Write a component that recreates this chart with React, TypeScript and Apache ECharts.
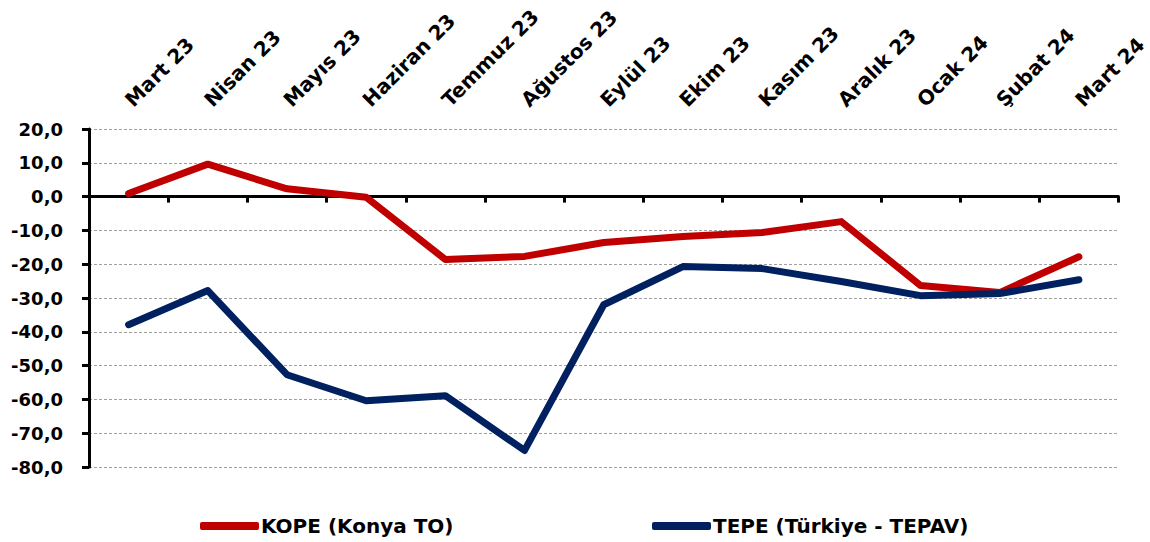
import React, { useEffect, useRef } from "react";
import * as echarts from "echarts";

const categories = [
  "Mart 23", "Nisan 23", "Mayıs 23", "Haziran 23", "Temmuz 23", "Ağustos 23",
  "Eylül 23", "Ekim 23", "Kasım 23", "Aralık 23", "Ocak 24", "Şubat 24", "Mart 24",
];
const kopeName = "KOPE (Konya TO)";
const tepeName = "TEPE (Türkiye - TEPAV)";
const kopeValues = [0.9, 9.6, 2.3, -0.2, -18.6, -17.7, -13.6, -11.8, -10.6, -7.4, -26.3, -28.4, -17.8];
const tepeValues = [-37.9, -27.8, -52.7, -60.4, -58.9, -75.1, -32.0, -20.7, -21.3, -25.1, -29.3, -28.7, -24.6];

const FONT = "'DejaVu Sans', sans-serif";

export default function App() {
  const ref = useRef<HTMLDivElement>(null);
  useEffect(() => {
    if (!ref.current) return;
    const chart = echarts.init(ref.current, null, { renderer: "svg" });
    const legendText = { color: "#000", fontWeight: "bold", fontSize: 20, fontFamily: FONT, padding: [0, 0, 0, -3] };
    chart.setOption({
      animation: false,
      backgroundColor: "#ffffff",
      grid: { left: 89, right: 31, top: 129, bottom: 75 },
      xAxis: [
        {
          type: "category",
          data: categories,
          position: "top",
          boundaryGap: true,
          axisLine: { show: false, onZero: false },
          axisTick: { show: false },
          axisLabel: {
            rotate: -45,
            margin: 26,
            color: "#000",
            fontWeight: "bold",
            fontSize: 20,
            fontFamily: FONT,
            interval: 0,
          },
          splitLine: { show: false },
        },
        {
          type: "category",
          data: categories,
          position: "bottom",
          boundaryGap: true,
          axisLine: { show: true, onZero: true, lineStyle: { color: "#000", width: 3 } },
          axisTick: { show: true, length: 6, lineStyle: { color: "#000", width: 3 }, interval: 0 },
          axisLabel: { show: false },
          splitLine: { show: false },
        },
      ],
      yAxis: {
        type: "value",
        min: -80,
        max: 20,
        interval: 10,
        axisLine: { show: true, onZero: false, lineStyle: { color: "#000", width: 3 } },
        axisTick: { show: true, length: 7, lineStyle: { color: "#000", width: 3 } },
        axisLabel: {
          margin: 26,
          color: "#000",
          fontWeight: "bold",
          fontSize: 18,
          fontFamily: FONT,
          formatter: (v: number) => v.toFixed(1).replace(".", ","),
        },
        splitLine: { show: true, lineStyle: { color: "#a0a0a0", width: 1, type: [3, 2] } },
      },
      legend: [
        {
          data: [{ name: kopeName, icon: "roundRect" }],
          left: 200,
          top: 516,
          padding: 0,
          itemWidth: 59,
          itemHeight: 8,
          textStyle: legendText,
        },
        {
          data: [{ name: tepeName, icon: "roundRect" }],
          left: 652,
          top: 516,
          padding: 0,
          itemWidth: 59,
          itemHeight: 8,
          textStyle: legendText,
        },
      ],
      series: [
        {
          name: kopeName,
          type: "line",
          xAxisIndex: 1,
          data: kopeValues,
          symbol: "none",
          color: "#C00000",
          lineStyle: { width: 7, color: "#C00000", cap: "round", join: "round" },
        },
        {
          name: tepeName,
          type: "line",
          xAxisIndex: 1,
          data: tepeValues,
          symbol: "none",
          color: "#002060",
          lineStyle: { width: 7, color: "#002060", cap: "round", join: "round" },
        },
      ],
    });
    return () => chart.dispose();
  }, []);
  return <div ref={ref} style={{ position: "absolute", left: 0, top: 0, width: 1150, height: 542 }} />;
}
